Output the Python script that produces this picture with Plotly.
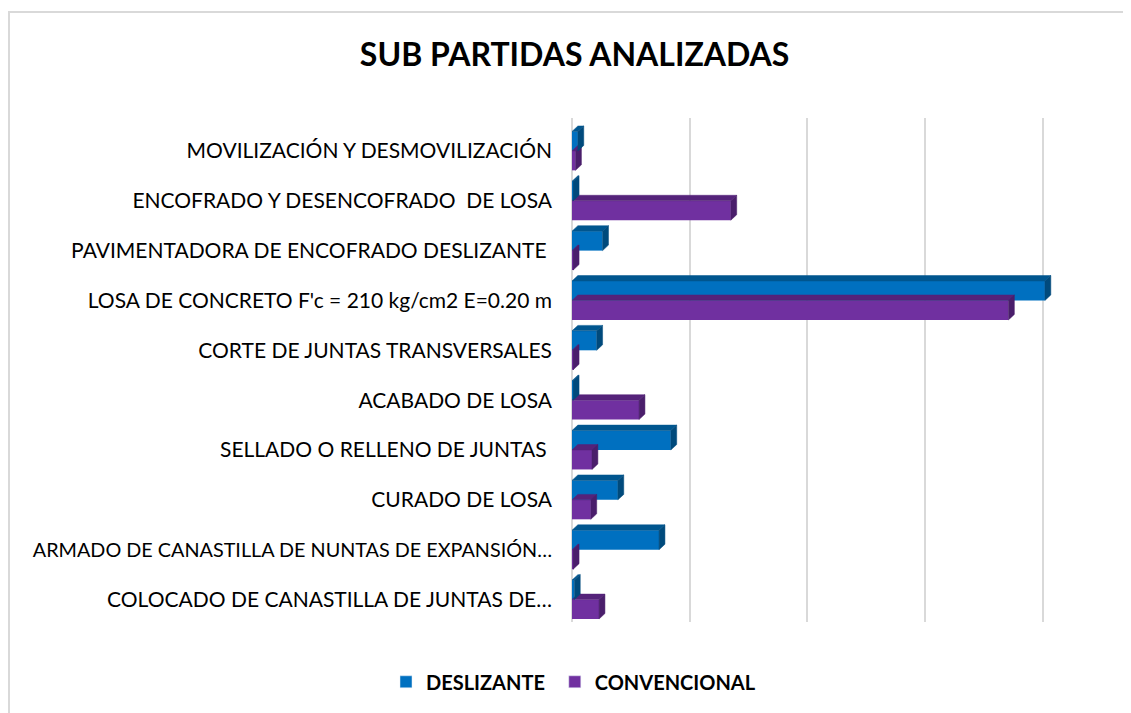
import plotly.graph_objects as go

categories = [
    "MOVILIZACIÓN Y DESMOVILIZACIÓN",
    "ENCOFRADO Y DESENCOFRADO\u00a0\u00a0DE LOSA",
    "PAVIMENTADORA DE ENCOFRADO DESLIZANTE\u00a0",
    "LOSA DE CONCRETO F'c = 210 kg/cm2 E=0.20 m",
    "CORTE DE JUNTAS TRANSVERSALES",
    "ACABADO DE LOSA",
    "SELLADO O RELLENO DE JUNTAS\u00a0",
    "CURADO DE LOSA",
    "ARMADO DE CANASTILLA DE NUNTAS DE EXPANSIÓN…",
    "COLOCADO DE CANASTILLA DE JUNTAS DE…",
]
deslizante = [0.05, 0.01, 0.26, 4.02, 0.21, 0.01, 0.84, 0.39, 0.74, 0.02]
convencional = [0.03, 1.35, 0.01, 3.71, 0.01, 0.57, 0.17, 0.16, 0.01, 0.23]

BLUE, BLUE_D, BLUE_S = "#0070C0", "#00568f", "#004a7c"
PURP, PURP_D, PURP_S = "#7030A0", "#55237a", "#4a1e6b"

W = 0.39          # bar thickness (category units)
DX, DY = 0.05, 0.11  # depth offsets (x units, category units)

fig = go.Figure()
idx = list(range(len(categories)))


def depth_faces(vals, offset, top_col, side_col):
    for i, v in zip(idx, vals):
        y0 = i + offset          # upper edge (axis reversed)
        y1 = y0 + W              # lower edge
        fig.add_trace(go.Scatter(
            x=[0, v, v + DX, DX, 0], y=[y0, y0, y0 - DY, y0 - DY, y0],
            fill="toself", fillcolor=top_col, mode="lines",
            line=dict(width=0.5, color=top_col), hoverinfo="skip", showlegend=False))
        fig.add_trace(go.Scatter(
            x=[v, v + DX, v + DX, v, v], y=[y0, y0 - DY, y1 - DY, y1, y0],
            fill="toself", fillcolor=side_col, mode="lines",
            line=dict(width=0.5, color=side_col), hoverinfo="skip", showlegend=False))


depth_faces(convencional, 0.0, PURP_D, PURP_S)
fig.add_trace(go.Bar(y=idx, x=convencional, orientation="h", name="CONVENCIONAL",
                     marker=dict(color=PURP, line=dict(width=0)), width=W, offset=0.0,
                     showlegend=False))
depth_faces(deslizante, -W, BLUE_D, BLUE_S)
fig.add_trace(go.Bar(y=idx, x=deslizante, orientation="h", name="DESLIZANTE",
                     marker=dict(color=BLUE, line=dict(width=0)), width=W, offset=-W,
                     showlegend=False))

fig.add_trace(go.Bar(y=[None], x=[None], orientation="h", name="DESLIZANTE\u00a0",
                     marker=dict(color=BLUE), showlegend=True))
fig.add_trace(go.Bar(y=[None], x=[None], orientation="h", name="CONVENCIONAL",
                     marker=dict(color=PURP), showlegend=True))

ML, MR, MT, MB = 564, 87, 110, 99
PW, PH = 1131 - ML - MR, 713 - MT - MB

# long, truncated labels are set a touch smaller so they fit the frame
ticktext = [
    f'<span style="font-size:19.8px">{c}</span>' if len(c) > 42 else c
    for c in categories
]

fig.update_layout(
    width=1131, height=713,
    margin=dict(l=ML, r=MR, t=MT, b=MB, autoexpand=False),
    paper_bgcolor="white", plot_bgcolor="white",
    barmode="overlay",
    font=dict(family="Lato, sans-serif", color="#000000"),
    title=dict(text="<b>SUB PARTIDAS ANALIZADAS</b>", x=0.501, xanchor="center",
               y=0.934, yanchor="middle",
               font=dict(family="Lato, sans-serif", size=32, color="#000000")),
    xaxis=dict(range=[0, 4.08], dtick=1, showticklabels=False, showgrid=True,
               gridcolor="#d9d9d9", gridwidth=2, zeroline=True, zerolinecolor="#d9d9d9",
               zerolinewidth=2, showline=False, fixedrange=True, automargin=False),
    yaxis=dict(tickvals=idx, ticktext=ticktext, range=[9.45, -0.66],
               showgrid=False, zeroline=False, showline=False, automargin=False,
               ticks="", ticklabelstandoff=19,
               tickfont=dict(family="Lato, sans-serif", size=21, color="#000000")),
    legend=dict(orientation="h", xref="container", x=0.5, xanchor="center",
                yref="container", y=0.055, yanchor="middle",
                font=dict(family="Lato, sans-serif", size=20, color="#000000",
                          weight="bold"),
                itemwidth=30, traceorder="normal"),
    shapes=[dict(type="rect", xref="paper", yref="paper",
                 x0=-ML / PW + 1 / PW, x1=1.3, y0=-0.5, y1=1 + (MT - 4) / PH,
                 line=dict(color="#d9d9d9", width=2), layer="below")],
)

fig.write_html("out.html")
